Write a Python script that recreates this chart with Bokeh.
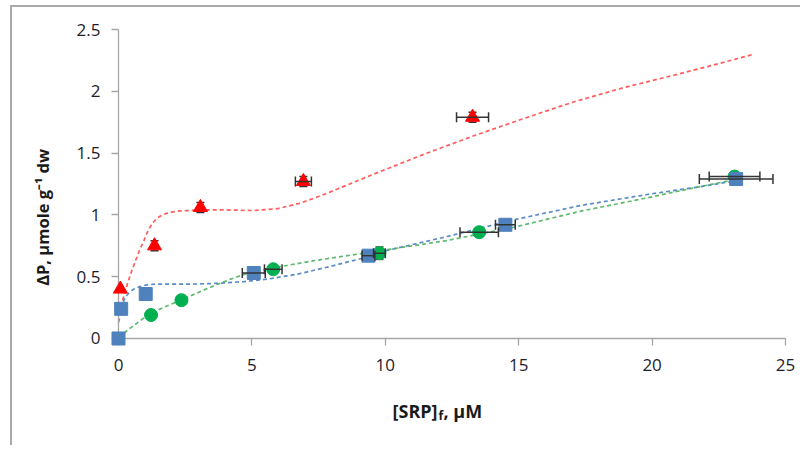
import math
from bokeh.plotting import figure
from bokeh.models import ColumnDataSource, Whisker, TeeHead, Label, Range1d, FixedTicker
from bokeh.embed import file_html
from bokeh.resources import INLINE

# ---- data ----
x_ticks = [0, 5, 10, 15, 20, 25]
x_tick_labels = ["0", "5", "10", "15", "20", "25"]
y_ticks = [0, 0.5, 1.0, 1.5, 2.0, 2.5]
y_tick_labels = ["0", "0.5", "1", "1.5", "2", "2.5"]

red_x = [0.07, 1.35, 3.07, 6.93, 13.27]
red_y = [0.40, 0.75, 1.06, 1.27, 1.79]
red_xerr = [0.0, 0.0, 0.0, 0.30, 0.60]
red_yerr = [0.0, 0.04, 0.04, 0.04, 0.04]

blue_x = [0.0, 0.10, 1.02, 5.07, 9.37, 14.50, 23.15]
blue_y = [0.0, 0.24, 0.36, 0.53, 0.67, 0.92, 1.29]
blue_xerr = [0.0, 0.0, 0.0, 0.43, 0.24, 0.37, 1.38]

green_x = [1.22, 2.36, 5.80, 9.78, 13.52, 23.09]
green_y = [0.19, 0.31, 0.56, 0.69, 0.86, 1.31]
green_xerr = [0.0, 0.0, 0.33, 0.22, 0.72, 0.95]
green_yerr = [0.0, 0.0, 0.0, 0.05, 0.0, 0.0]

# trend lines (dashed)
red_trend_x = [0.0, 0.13, 0.26, 0.45, 0.64, 0.80, 0.95, 1.10, 1.26, 1.45, 1.64, 1.90, 2.20, 2.60,
               3.07, 4.07, 5.07, 5.95, 6.82, 7.70, 9.57, 11.44, 13.32, 15.19, 17.07, 18.94,
               20.81, 22.69, 23.81]
red_trend_y = [0.20, 0.29, 0.39, 0.52, 0.63, 0.72, 0.79, 0.87, 0.93, 0.975, 1.00, 1.02, 1.03, 1.035,
               1.04, 1.04, 1.035, 1.05, 1.095, 1.165, 1.33, 1.49, 1.64, 1.78, 1.915, 2.03,
               2.13, 2.235, 2.30]

blue_trend_x = [0.0, 0.10, 0.20, 0.35, 0.57, 0.80, 1.07, 1.40, 1.82, 2.82, 3.82, 4.70, 5.57,
                6.70, 7.82, 9.07, 9.82, 12.32, 14.82, 17.32, 19.82, 21.70, 23.06]
blue_trend_y = [0.13, 0.22, 0.31, 0.36, 0.40, 0.42, 0.434, 0.44, 0.44, 0.44, 0.447, 0.46, 0.48,
                0.52, 0.577, 0.645, 0.70, 0.825, 0.96, 1.076, 1.165, 1.225, 1.273]

green_trend_x = [0.0, 0.57, 1.20, 2.32, 3.45, 4.20, 4.95, 5.95, 7.20, 8.44, 9.70, 12.32, 14.82,
                 17.32, 19.82, 21.70, 22.94]
green_trend_y = [0.01, 0.105, 0.205, 0.31, 0.415, 0.48, 0.536, 0.577, 0.625, 0.666, 0.706, 0.793,
                 0.90, 1.03, 1.138, 1.225, 1.278]

# ---- figure: frame covers the whole canvas, axes are pinned at 0 ----
p = figure(width=790, height=440, output_backend="svg", toolbar_location=None,
           x_range=Range1d(-3.973, 25.637), y_range=Range1d(-0.882, 2.678),
           min_border_left=0, min_border_right=0, min_border_top=0, min_border_bottom=0)
p.margin = (5, 0, 0, 10)
p.styles = {"border-left": "2px solid #a9a9a9", "border-top": "2px solid #a9a9a9"}
p.outline_line_color = None
p.xgrid.visible = False
p.ygrid.visible = False
p.background_fill_color = "white"
p.border_fill_color = "white"

AX = "#a6a6a6"
TICKFONT = "Open Sans"
for ax in (p.xaxis, p.yaxis):
    ax.fixed_location = 0
    ax.axis_line_color = AX
    ax.axis_line_width = 1.3
    ax.major_tick_line_color = AX
    ax.major_tick_line_width = 1.3
    ax.major_tick_out = 7
    ax.major_tick_in = 0
    ax.minor_tick_line_color = None
    ax.major_label_text_font = TICKFONT
    ax.major_label_text_font_size = "17px"
    ax.major_label_text_color = "#1d1d2b"

p.xaxis.bounds = (x_ticks[0], x_ticks[-1])
p.xaxis.ticker = FixedTicker(ticks=x_ticks)
p.xaxis.major_label_overrides = {t: l for t, l in zip(x_ticks, x_tick_labels)}
p.xaxis.major_label_standoff = 14
p.yaxis.bounds = (y_ticks[0], y_ticks[-1])
p.yaxis.ticker = FixedTicker(ticks=y_ticks)
p.yaxis.major_label_overrides = {t: l for t, l in zip(y_ticks, y_tick_labels)}
p.yaxis.major_label_standoff = 11

# trend lines
DASH = "4 3"
p.line(red_trend_x, red_trend_y, line_color="#ff4a4a", line_width=1.7, line_dash=DASH, line_alpha=0.9)
p.line(blue_trend_x, blue_trend_y, line_color="#4a7fc1", line_width=1.7, line_dash=DASH, line_alpha=0.9)
p.line(green_trend_x, green_trend_y, line_color="#4cb35c", line_width=1.7, line_dash=DASH, line_alpha=0.9)

EB = "#333333"


def xerr_whisker(xs, ys, errs):
    idx = [i for i, e in enumerate(errs) if e > 0]
    src = ColumnDataSource(dict(
        base=[ys[i] for i in idx],
        lower=[xs[i] - errs[i] for i in idx],
        upper=[xs[i] + errs[i] for i in idx]))
    w = Whisker(source=src, base="base", lower="lower", upper="upper", dimension="width",
                line_color=EB, line_width=1.5, level="overlay",
                upper_head=TeeHead(size=10, line_color=EB, line_width=1.5),
                lower_head=TeeHead(size=10, line_color=EB, line_width=1.5))
    p.add_layout(w)


def yerr_whisker(xs, ys, errs):
    idx = [i for i, e in enumerate(errs) if e > 0]
    src = ColumnDataSource(dict(
        base=[xs[i] for i in idx],
        lower=[ys[i] - errs[i] for i in idx],
        upper=[ys[i] + errs[i] for i in idx]))
    w = Whisker(source=src, base="base", lower="lower", upper="upper", dimension="height",
                line_color=EB, line_width=1.5, level="underlay",
                upper_head=TeeHead(size=8, line_color=EB, line_width=1.5),
                lower_head=TeeHead(size=8, line_color=EB, line_width=1.5))
    p.add_layout(w)


yerr_whisker(red_x, red_y, red_yerr)
yerr_whisker(green_x, green_y, green_yerr)

p.scatter(red_x, red_y, marker="triangle", size=14, fill_color="#ff0000", line_color="#ff0000", level="overlay")
p.scatter(green_x, green_y, marker="circle", size=13, fill_color="#00b050", line_color="#00b050", level="overlay")
p.scatter(blue_x, blue_y, marker="square", size=13, fill_color="#4f81bd", line_color="#4f81bd", level="overlay")

xerr_whisker(red_x, red_y, red_xerr)
xerr_whisker(blue_x, blue_y, blue_xerr)
xerr_whisker(green_x, green_y, green_xerr)

# axis titles
LBL = "#1a1a1a"
p.add_layout(Label(x=-2.85, y=0.98, text="ΔP, µmole g⁻¹ dw", angle=math.pi / 2,
                   text_align="center", text_baseline="middle", text_font="Open Sans",
                   text_font_style="bold", text_font_size="16.5px", text_color=LBL))
p.add_layout(Label(x=10.27, y=-0.59, text="[SRP]", text_align="left", text_baseline="alphabetic",
                   text_font="Open Sans", text_font_style="bold", text_font_size="18px", text_color=LBL))
p.add_layout(Label(x=11.99, y=-0.62, text="f", text_align="left", text_baseline="alphabetic",
                   text_font="Open Sans", text_font_style="bold", text_font_size="12px", text_color=LBL))
p.add_layout(Label(x=12.18, y=-0.59, text=", µM", text_align="left", text_baseline="alphabetic",
                   text_font="Open Sans", text_font_style="bold", text_font_size="18px", text_color=LBL))

open("out.html", "w").write(file_html(p, INLINE))
